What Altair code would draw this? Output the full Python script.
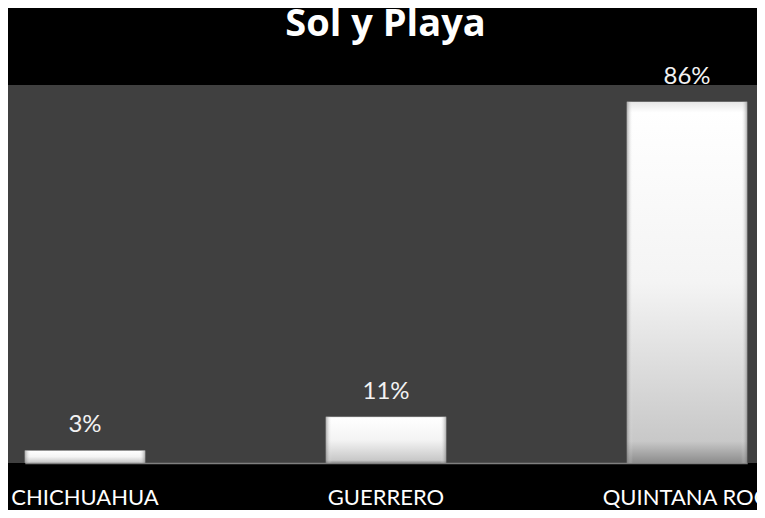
import altair as alt
import pandas as pd

categories = ["CHICHUAHUA", "GUERRERO", "QUINTANA ROO"]
values = [3, 11, 86]
labels = ["3%", "11%", "86%"]

df = pd.DataFrame({"estado": categories, "valor": values, "etiqueta": labels})

FONT = "Lato"

x_enc = alt.X(
    "estado:N",
    sort=categories,
    title=None,
    scale=alt.Scale(paddingInner=0.6, paddingOuter=0, range=[16.8, 739.2]),
    axis=alt.Axis(
        labelAngle=0,
        labelColor="#ffffff",
        labelFont=FONT,
        labelFontSize=22,
        labelPadding=41,
        labelBaseline="alphabetic",
        ticks=False,
        grid=False,
        domainColor="#7f7f7f",
        domainWidth=1.5,
        labelOverlap=False,
        labelBound=False,
        labelFlush=False,
    ),
)
y_enc = alt.Y("valor:Q", scale=alt.Scale(domain=[0, 90]), axis=None)

base = alt.Chart(df).encode(x=x_enc, y=y_enc)

fill_grad = alt.Gradient(
    gradient="linear",
    stops=[
        alt.GradientStop(color="#e6e6e6", offset=0),
        alt.GradientStop(color="#ffffff", offset=0.03),
        alt.GradientStop(color="#f4f4f4", offset=0.5),
        alt.GradientStop(color="#c8c8c8", offset=0.94),
        alt.GradientStop(color="#8c8c8c", offset=1),
    ],
    x1=0, x2=0, y1=0, y2=1,
)
edge_grad = alt.Gradient(
    gradient="linear",
    stops=[
        alt.GradientStop(color="rgba(110,110,110,0.55)", offset=0),
        alt.GradientStop(color="rgba(255,255,255,0)", offset=0.05),
        alt.GradientStop(color="rgba(255,255,255,0)", offset=0.95),
        alt.GradientStop(color="rgba(110,110,110,0.55)", offset=1),
    ],
    x1=0, x2=1, y1=0, y2=0,
)

bars = base.mark_bar(color=fill_grad)
edges = base.mark_bar(color=edge_grad)
text = base.mark_text(
    dy=-18, baseline="alphabetic", font=FONT, fontSize=24, color="#f2f2f2"
).encode(text="etiqueta:N")

chart = (
    alt.layer(bars, edges, text)
    .properties(
        width=749,
        height=378,
        title=alt.TitleParams(
            "Sol y Playa",
            anchor="middle",
            font="Open Sans",
            fontSize=38,
            fontWeight="bold",
            color="#ffffff",
            baseline="alphabetic",
            offset=0,
            dy=9,
            dx=3,
        ),
        padding={"left": 0, "right": 0, "top": 77, "bottom": 47},
        autosize=alt.AutoSizeParams(type="none"),
    )
    .configure(background="#000000")
    .configure_view(fill="#404040", stroke=None)
)

chart.save("out.html", embed_options={"renderer": "svg", "actions": False})
